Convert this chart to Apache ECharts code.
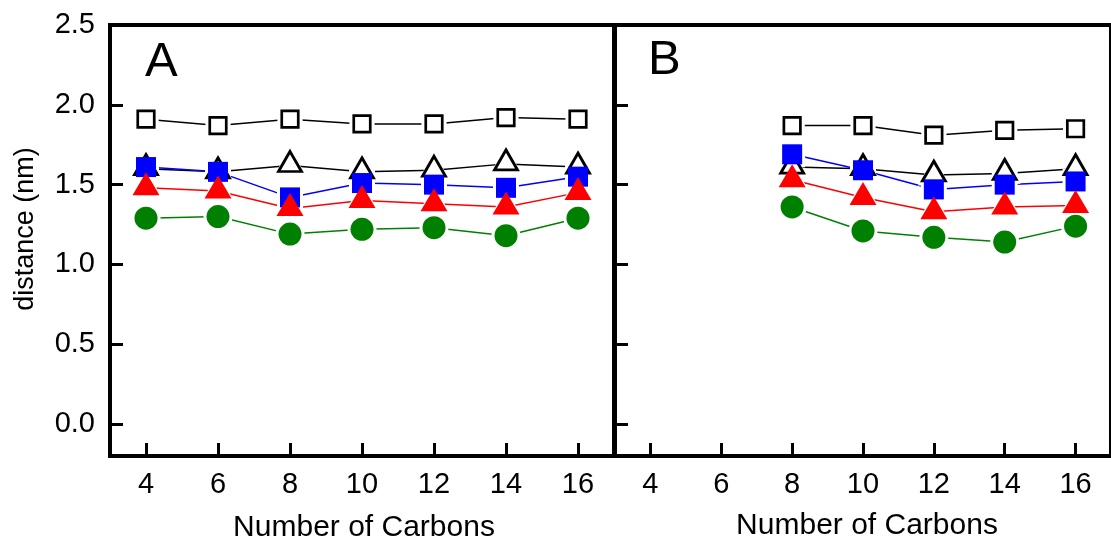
<!DOCTYPE html>
<html>
<head>
<meta charset="utf-8">
<script src="https://cdn.jsdelivr.net/npm/echarts@6/dist/echarts.min.js"></script>
<style>
html,body{margin:0;padding:0;background:#fff;}
#chart{width:1111px;height:542px;}
</style>
</head>
<body>
<div id="chart"></div>
<script>
// ---- data ----
const xTicks = [4, 6, 8, 10, 12, 14, 16];
const yTicks = [0.0, 0.5, 1.0, 1.5, 2.0, 2.5];
const carbonsA = [4, 6, 8, 10, 12, 14, 16];
const carbonsB = [8, 10, 12, 14, 16];

const aOpenSquare   = [1.91, 1.87, 1.91, 1.88, 1.88, 1.92, 1.91];
const aOpenTriangle = [1.60, 1.58, 1.62, 1.58, 1.59, 1.63, 1.61];
const aBlueSquare   = [1.61, 1.58, 1.42, 1.51, 1.50, 1.48, 1.55];
const aRedTriangle  = [1.48, 1.46, 1.35, 1.40, 1.38, 1.36, 1.45];
const aGreenCircle  = [1.29, 1.30, 1.19, 1.22, 1.23, 1.18, 1.29];

const bOpenSquare   = [1.87, 1.87, 1.81, 1.84, 1.85];
const bOpenTriangle = [1.61, 1.60, 1.56, 1.57, 1.60];
const bBlueSquare   = [1.69, 1.59, 1.47, 1.50, 1.52];
const bRedTriangle  = [1.53, 1.42, 1.33, 1.36, 1.37];
const bGreenCircle  = [1.36, 1.21, 1.17, 1.14, 1.24];

const panelLabels = ['A', 'B'];
const xTitle = 'Number of Carbons';
const yTitle = 'distance (nm)';

// ---- styles ----
const FONT = 'Liberation Sans, Arial, sans-serif';
const styles = {
  openSquare:   {symbol: 'rect', size: 16.5, color: '#ffffff', border: '#000000', bw: 2.7, line: '#000000', off: 0},
  openTriangle: {symbol: 'triangle', size: [23, 20], color: '#ffffff', border: '#000000', bw: 2.8, line: '#000000', off: -4},
  blueSquare:   {symbol: 'rect', size: 20, color: '#0000ff', border: null, bw: 0, line: '#0000ff', off: 0},
  redTriangle:  {symbol: 'triangle', size: [27, 23], color: '#ff0000', border: null, bw: 0, line: '#ff0000', off: -4},
  greenCircle:  {symbol: 'circle', size: 23, color: '#008000', border: null, bw: 0, line: '#008000', off: 0}
};

function grow(s, d) { return Array.isArray(s) ? [s[0] + d, s[1] + d] : s + d; }

function build(gi, xs, ys, st) {
  const data = xs.map((x, i) => [x, ys[i]]);
  return [
    {type: 'line', xAxisIndex: gi, yAxisIndex: gi, data: data, symbol: 'none', z: 2,
     lineStyle: {color: st.line, width: 1.5}, silent: true, animation: false},
    {type: 'scatter', xAxisIndex: gi, yAxisIndex: gi, data: data, symbol: st.symbol,
     symbolSize: grow(st.size, st.bw + 6), symbolOffset: [0, st.off], z: 3,
     itemStyle: {color: '#ffffff', opacity: 1}, silent: true, animation: false},
    {type: 'scatter', xAxisIndex: gi, yAxisIndex: gi, data: data, symbol: st.symbol,
     symbolSize: st.size, symbolOffset: [0, st.off], z: 4,
     itemStyle: {color: st.color, borderColor: st.border || st.color, borderWidth: st.bw, opacity: 1},
     silent: true, animation: false}
  ];
}

const series = [].concat(
  build(0, carbonsA, aOpenSquare, styles.openSquare),
  build(0, carbonsA, aOpenTriangle, styles.openTriangle),
  build(0, carbonsA, aBlueSquare, styles.blueSquare),
  build(0, carbonsA, aRedTriangle, styles.redTriangle),
  build(0, carbonsA, aGreenCircle, styles.greenCircle),
  build(1, carbonsB, bOpenSquare, styles.openSquare),
  build(1, carbonsB, bOpenTriangle, styles.openTriangle),
  build(1, carbonsB, bBlueSquare, styles.blueSquare),
  build(1, carbonsB, bRedTriangle, styles.redTriangle),
  build(1, carbonsB, bGreenCircle, styles.greenCircle)
);

function xAxisDef(gi) {
  return {
    type: 'value', gridIndex: gi, min: 3, max: 17,
    axisLine: {show: true, onZero: false, lineStyle: {color: '#000', width: 4}},
    axisTick: {show: true, inside: true, length: 13, customValues: xTicks, lineStyle: {color: '#000', width: 3}},
    axisLabel: {show: true, customValues: xTicks, color: '#000', fontSize: 29, fontFamily: FONT, margin: 14},
    splitLine: {show: false}
  };
}
function yAxisDef(gi, showLabels) {
  return {
    type: 'value', gridIndex: gi, min: -0.2, max: 2.5,
    axisLine: {show: true, onZero: false, lineStyle: {color: '#000', width: 4}},
    axisTick: {show: true, inside: true, length: 13, customValues: yTicks, lineStyle: {color: '#000', width: 3}},
    axisLabel: {show: showLabels, customValues: yTicks, color: '#000', fontSize: 29, fontFamily: FONT, margin: 15,
      formatter: v => Number(v).toFixed(1)},
    splitLine: {show: false}
  };
}

const option = {
  backgroundColor: '#ffffff',
  animation: false,
  grid: [
    {left: 110, top: 25, width: 504, height: 431, show: true, borderColor: '#000', borderWidth: 4, backgroundColor: 'transparent'},
    {left: 615, top: 25, width: 504, height: 431, show: true, borderColor: '#000', borderWidth: 4, backgroundColor: 'transparent'}
  ],
  xAxis: [xAxisDef(0), xAxisDef(1)],
  yAxis: [yAxisDef(0, true), yAxisDef(1, false)],
  graphic: [
    {type: 'text', x: 145, y: 62, z: 10, style: {text: panelLabels[0], fontSize: 49, fontFamily: FONT, fill: '#000', align: 'left', verticalAlign: 'middle'}},
    {type: 'text', x: 648, y: 60, z: 10, style: {text: panelLabels[1], fontSize: 49, fontFamily: FONT, fill: '#000', align: 'left', verticalAlign: 'middle'}},
    {type: 'text', x: 364, y: 528, z: 10, style: {text: xTitle, fontSize: 30, fontFamily: FONT, fill: '#000', align: 'center', verticalAlign: 'middle'}},
    {type: 'text', x: 867, y: 526, z: 10, style: {text: xTitle, fontSize: 30, fontFamily: FONT, fill: '#000', align: 'center', verticalAlign: 'middle'}},
    {type: 'text', x: 26, y: 229, rotation: Math.PI / 2, z: 10, style: {text: yTitle, fontSize: 27, fontFamily: FONT, fill: '#000', align: 'center', verticalAlign: 'middle'}}
  ],
  series: series
};

const chart = echarts.init(document.getElementById('chart'), null, {renderer: 'canvas'});
chart.setOption(option);
</script>
</body>
</html>
